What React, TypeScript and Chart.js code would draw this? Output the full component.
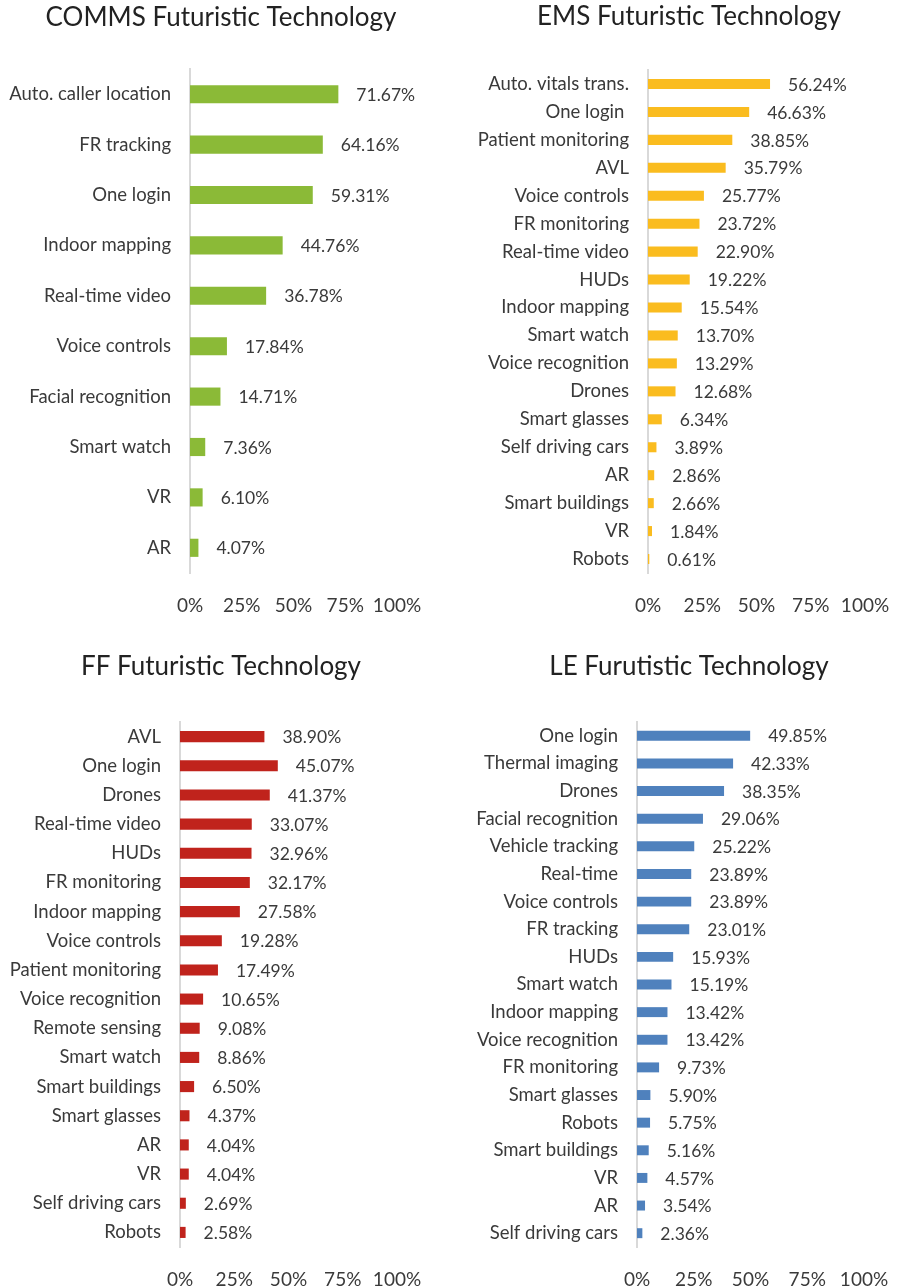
import React, { useEffect, useRef } from "react";
import { Chart, registerables } from "chart.js";

Chart.register(...registerables);

const FONT = "Lato, 'Open Sans', sans-serif";
const TEXT = "#3a3a3a";

const commsLabels = ["Auto. caller location", "FR tracking", "One login", "Indoor mapping", "Real-time video", "Voice controls", "Facial recognition", "Smart watch", "VR", "AR"];
const commsValues = [71.67, 64.16, 59.31, 44.76, 36.78, 17.84, 14.71, 7.36, 6.1, 4.07];

const emsLabels = ["Auto. vitals trans.", "One login ", "Patient monitoring", "AVL", "Voice controls", "FR monitoring", "Real-time video", "HUDs", "Indoor mapping", "Smart watch", "Voice recognition", "Drones", "Smart glasses", "Self driving cars", "AR", "Smart buildings", "VR", "Robots"];
const emsValues = [56.24, 46.63, 38.85, 35.79, 25.77, 23.72, 22.9, 19.22, 15.54, 13.7, 13.29, 12.68, 6.34, 3.89, 2.86, 2.66, 1.84, 0.61];

const ffLabels = ["AVL", "One login", "Drones", "Real-time video", "HUDs", "FR monitoring", "Indoor mapping", "Voice controls", "Patient monitoring", "Voice recognition", "Remote sensing", "Smart watch", "Smart buildings", "Smart glasses", "AR", "VR", "Self driving cars", "Robots"];
const ffValues = [38.9, 45.07, 41.37, 33.07, 32.96, 32.17, 27.58, 19.28, 17.49, 10.65, 9.08, 8.86, 6.5, 4.37, 4.04, 4.04, 2.69, 2.58];

const leLabels = ["One login", "Thermal imaging", "Drones", "Facial recognition", "Vehicle tracking", "Real-time", "Voice controls", "FR tracking", "HUDs", "Smart watch", "Indoor mapping", "Voice recognition", "FR monitoring", "Smart glasses", "Robots", "Smart buildings", "VR", "AR", "Self driving cars"];
const leValues = [49.85, 42.33, 38.35, 29.06, 25.22, 23.89, 23.89, 23.01, 15.93, 15.19, 13.42, 13.42, 9.73, 5.9, 5.75, 5.16, 4.57, 3.54, 2.36];

const xTicks = [0, 25, 50, 75, 100];

type Panel = {
  title: string;
  labels: string[];
  values: number[];
  color: string;
  left: number;
  top: number;
  width: number;
  height: number;
  axisX: number;
  rightX: number;
  plotTop: number;
  plotBottom: number;
  titleX: number;
  titleY: number;
  barPct: number;
};

const panels: Panel[] = [
  { title: "COMMS Futuristic Technology", labels: commsLabels, values: commsValues, color: "#8bba37", left: 0, top: 0, width: 449, height: 640, axisX: 190, rightX: 397, plotTop: 69, plotBottom: 573, titleX: 221, titleY: 18, barPct: 0.36 },
  { title: "EMS Futuristic Technology", labels: emsLabels, values: emsValues, color: "#fabc1f", left: 450, top: 0, width: 480, height: 640, axisX: 198, rightX: 415, plotTop: 70, plotBottom: 573, titleX: 239, titleY: 17, barPct: 0.36 },
  { title: "FF Futuristic Technology", labels: ffLabels, values: ffValues, color: "#c0231c", left: 0, top: 640, width: 449, height: 700, axisX: 180, rightX: 397, plotTop: 82, plotBottom: 607, titleX: 221, titleY: 27, barPct: 0.38 },
  { title: "LE Furutistic Technology", labels: leLabels, values: leValues, color: "#4f81bd", left: 450, top: 640, width: 480, height: 700, axisX: 187, rightX: 414, plotTop: 82, plotBottom: 607, titleX: 239, titleY: 27, barPct: 0.36 },
];

const TICK_SIZE = 19;
const TICK_PAD = 21;

function ChartPanel({ p }: { p: Panel }) {
  const ref = useRef<HTMLCanvasElement | null>(null);
  useEffect(() => {
    const canvas = ref.current;
    if (!canvas) return;
    const axisHeight = TICK_PAD * 2 + TICK_SIZE * 1.2;
    const padBottom = Math.max(0, p.height - p.plotBottom - axisHeight);
    const titlePlugin = {
      id: "panelTitle",
      afterDraw(chart: any) {
        const ctx = chart.ctx;
        ctx.save();
        ctx.font = `26px ${FONT}`;
        ctx.fillStyle = "#222222";
        ctx.textAlign = "center";
        ctx.textBaseline = "middle";
        ctx.fillText(p.title, p.titleX, p.titleY);
        ctx.restore();
      },
    };
    const valuePlugin = {
      id: "valueLabels",
      afterDatasetsDraw(chart: any) {
        const ctx = chart.ctx;
        const meta = chart.getDatasetMeta(0);
        ctx.save();
        ctx.font = `17.5px ${FONT}`;
        ctx.fillStyle = TEXT;
        ctx.textAlign = "left";
        ctx.textBaseline = "middle";
        meta.data.forEach((bar: any, i: number) => {
          const v = chart.data.datasets[0].data[i] as number;
          ctx.fillText(`${v.toFixed(2)}%`, bar.x + 18, bar.y + 1);
        });
        ctx.restore();
      },
    };
    const chart = new Chart(canvas, {
      type: "bar",
      data: {
        labels: p.labels,
        datasets: [
          {
            data: p.values,
            backgroundColor: p.color,
            borderWidth: 0,
            barPercentage: p.barPct,
            categoryPercentage: 1,
          },
        ],
      },
      options: {
        indexAxis: "y",
        responsive: false,
        animation: false,
        devicePixelRatio: 1,
        layout: {
          padding: { top: p.plotTop, right: p.width - p.rightX, bottom: padBottom, left: 0 },
        },
        plugins: {
          legend: { display: false },
          title: { display: false },
          tooltip: { enabled: false },
        },
        scales: {
          x: {
            min: 0,
            max: 100,
            afterBuildTicks: (scale: any) => {
              scale.ticks = xTicks.map((v) => ({ value: v }));
            },
            ticks: {
              callback: (v: any) => `${v}%`,
              font: { family: FONT, size: TICK_SIZE, lineHeight: 1.2 },
              color: TEXT,
              padding: TICK_PAD,
              maxRotation: 0,
              autoSkip: false,
            },
            grid: { display: false, drawTicks: false },
            border: { display: false },
          },
          y: {
            afterFit: (scale: any) => {
              scale.width = p.axisX;
            },
            ticks: {
              font: { family: FONT, size: 18.5 },
              color: TEXT,
              padding: 19,
              autoSkip: false,
            },
            grid: { display: false, drawTicks: false },
            border: { display: true, color: "#d9d9d9", width: 2 },
          },
        },
      },
      plugins: [titlePlugin, valuePlugin],
    } as any);
    return () => chart.destroy();
  }, [p]);
  return (
    <canvas
      ref={ref}
      width={p.width}
      height={p.height}
      style={{ position: "absolute", left: p.left, top: p.top, width: p.width, height: p.height }}
    />
  );
}

export default function App() {
  return (
    <div
      style={{
        position: "fixed",
        left: 0,
        top: 0,
        width: 899,
        height: 1287,
        overflow: "hidden",
        background: "#ffffff",
      }}
    >
      {panels.map((p) => (
        <ChartPanel key={p.title} p={p} />
      ))}
    </div>
  );
}
